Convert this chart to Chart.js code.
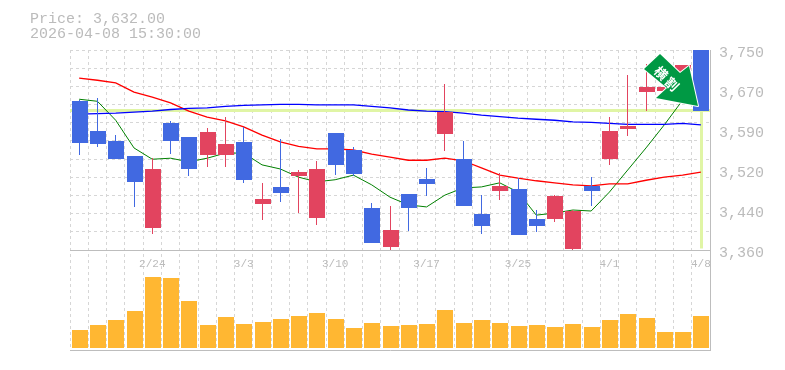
<!DOCTYPE html>
<html><head><meta charset="utf-8">
<style>html,body{margin:0;padding:0;background:#fff}#w{position:relative;width:785px;height:370px}</style>
<script src="https://cdn.jsdelivr.net/npm/chart.js@4/dist/chart.umd.min.js"></script>
</head><body><div id="w"><canvas id="c" width="785" height="370"></canvas></div>
<script>
const categories=['2/17','2/18','2/19','2/20','2/24','2/25','2/26','2/27','3/2','3/3','3/4','3/5','3/6','3/9','3/10','3/11','3/12','3/13','3/16','3/17','3/18','3/19','3/23','3/24','3/25','3/26','3/27','3/30','3/31','4/1','4/2','4/3','4/6','4/7','4/8'];
const shownDates=['2/24','3/3','3/10','3/17','3/25','4/1','4/8'];
const opens=[3651,3592,3572,3543,3403,3608,3580,3545,3545,3571,3450,3483,3504,3422,3588,3555,3442,3366,3469,3498,3586,3537,3430,3475,3479,3420,3420,3362,3485,3537,3596,3668,3670,3692,3765];
const closes=[3569,3567,3537,3493,3518,3572,3518,3590,3567,3496,3459,3471,3512,3518,3526,3508,3374,3399,3442,3489,3629,3446,3407,3485,3389,3407,3465,3436,3475,3592,3602,3678,3678,3721,3632];
const highs=[3652,3656,3584,3543,3539,3611,3580,3598,3619,3600,3491,3576,3516,3533,3588,3561,3452,3446,3469,3520,3684,3572,3467,3510,3500,3438,3467,3438,3502,3619,3701,3723,3691,3721,3770];
const lows=[3545,3561,3537,3444,3391,3547,3504,3522,3522,3491,3418,3454,3432,3409,3506,3504,3374,3358,3397,3465,3553,3446,3391,3457,3389,3395,3415,3360,3446,3526,3582,3631,3662,3682,3632];
const maShort=[3654,3650,3613,3559,3537,3539,3532,3539,3549,3549,3526,3518,3502,3493,3497,3506,3487,3463,3448,3444,3467,3481,3483,3491,3473,3428,3432,3438,3436,3473,3516,3559,3604,3652,3682];
const maMid=[3695,3691,3686,3668,3658,3647,3631,3619,3612,3600,3584,3571,3562,3557,3557,3555,3547,3541,3535,3535,3539,3534,3520,3506,3500,3495,3491,3487,3485,3489,3489,3496,3502,3506,3512];
const maLong=[3625,3626,3627,3629,3631,3634,3636,3637,3640,3642,3643,3644,3644,3643,3643,3643,3640,3637,3633,3631,3630,3627,3623,3620,3617,3615,3613,3610,3609,3607,3605,3605,3605,3607,3604];
const volumes=[180,230,280,370,710,700,470,230,310,240,260,290,320,350,290,200,250,220,230,240,380,250,280,250,220,230,210,240,210,280,340,300,160,160,320];
const currentPrice=3632;
const priceText='Price: 3,632.00';
const dateText='2026-04-08 15:30:00';
const badgeText=['横','割'];
const gridValues=[3750,3714.5,3679.1,3643.6,3608.2,3572.7,3537.3,3501.8,3466.4,3430.9,3395.5,3360];
const tickValues=[3750,3672,3594,3516,3438,3360];
const tickLabels=['3,750','3,670','3,590','3,520','3,440','3,360'];

const MONO='"Liberation Mono",monospace', GRAY='#bbbbbb', GRID='#d6d6d6', AXIS='#bdbdbd';
const BLUE='#4169e1', RED='#e2445f', LIME='#e0f5a5';
const isUp=(i)=>closes[i]>opens[i];
const candleColor=categories.map((_,i)=>isUp(i)?RED:BLUE);

const overlay={id:'overlay',
 beforeDatasetsDraw(ch){
  const c=ch.ctx,y=ch.scales.y.getPixelForValue(currentPrice),a=ch.chartArea,xl=ch.scales.x.getPixelForValue(categories.length-1);
  c.save();c.fillStyle=LIME;c.fillRect(a.left,Math.round(y)-2,a.width,3);
  c.fillRect(Math.floor(xl),Math.round(y)-2,3,ch.scales.y.bottom-y);c.restore();
  // snap bars to whole pixels so their edges stay crisp
  ch.data.datasets.forEach((d,di)=>{if(d.type!=='bar')return;
   ch.getDatasetMeta(di).data.forEach((el,i)=>{
    const cx=ch.scales.x.getPixelForValue(i);
    el.x=Math.floor(cx+1)-(d.label==='Wick'?0.5:0);
    el.y=Math.round(el.y);el.base=Math.round(el.base);});});
 },
 afterDatasetsDraw(ch){const c=ch.ctx;
  c.save();c.beginPath();
  const pts=[[644,69],[660,54],[680,73],[689,66],[698,106],[656,98],[667,88]];
  pts.forEach((p,i)=>i?c.lineTo(p[0],p[1]):c.moveTo(p[0],p[1]));c.closePath();
  c.lineJoin='round';c.lineWidth=2;c.strokeStyle='#fff';c.stroke();c.fillStyle='#009944';c.fill();
  c.fillStyle='#fff';c.font='bold 13px "Noto Sans CJK JP"';c.textAlign='center';c.textBaseline='middle';
  [[661,73],[672,84]].forEach((p,i)=>{c.save();c.translate(p[0],p[1]);c.rotate(Math.PI/4);c.fillText(badgeText[i],0,0);c.restore();});
  c.restore();
  c.save();c.font='15px '+MONO;c.fillStyle=GRAY;c.textBaseline='alphabetic';c.textAlign='left';
  c.fillText(priceText,30,23);c.fillText(dateText,30,38);c.restore();}
};

new Chart(document.getElementById('c'),{
 data:{labels:categories,datasets:[
  {type:'bar',label:'Wick',data:categories.map((_,i)=>[lows[i],highs[i]]),backgroundColor:candleColor,barThickness:1,inflateAmount:0,grouped:false,order:2,yAxisID:'y'},
  {type:'bar',label:'Body',data:categories.map((_,i)=>[opens[i],closes[i]]),backgroundColor:candleColor,barThickness:16,inflateAmount:0,grouped:false,order:1,yAxisID:'y'},
  {type:'line',label:'MA short',data:maShort,borderColor:'#008000',borderWidth:1,pointRadius:0,order:5,yAxisID:'y'},
  {type:'line',label:'MA mid',data:maMid,borderColor:'#ff0000',borderWidth:1.3,pointRadius:0,order:4,yAxisID:'y'},
  {type:'line',label:'MA long',data:maLong,borderColor:'#0000ff',borderWidth:1.3,pointRadius:0,order:3,yAxisID:'y'},
  {type:'bar',label:'Volume',data:volumes,backgroundColor:'#ffb732',barThickness:16,inflateAmount:0,grouped:false,order:6,yAxisID:'v'}
 ]},
 options:{responsive:false,animation:false,
  layout:{padding:{left:70,top:50,right:0,bottom:20}},
  plugins:{legend:{display:false},tooltip:{enabled:false}},
  scales:{
   x:{type:'category',position:{y:3360},offset:true,
      grid:{color:GRID,lineWidth:1,tickLength:0,drawTicks:false,offset:true},
      border:{color:AXIS,dash:[3,3],width:1},
      ticks:{autoSkip:false,maxRotation:0,padding:7,color:GRAY,font:{family:MONO,size:11},
        callback(v){const l=categories[v];return shownDates.includes(l)?l:'';}}},
   x2:{type:'category',labels:categories,position:{v:-20},offset:true,grid:{display:false},
      border:{color:AXIS,width:1},ticks:{display:false}},
   y:{type:'linear',position:'right',stack:'panes',stackWeight:2,min:3360,max:3750,
      afterBuildTicks(s){s.ticks=[...new Set([...gridValues,...tickValues])].sort((a,b)=>a-b).map(value=>({value}));},
      afterFit(s){s.width=75;},
      grid:{drawTicks:false,tickLength:0,color(ctx){return gridValues.includes(ctx.tick.value)?GRID:'rgba(0,0,0,0)';}},
      border:{color:AXIS,width:1,dash:[3,3]},
      ticks:{padding:9,labelOffset:3,color:GRAY,font:{family:MONO,size:15},autoSkip:false,
        callback(v){const i=tickValues.indexOf(v);return i<0?'':tickLabels[i];}}},
   v:{type:'linear',position:'right',stack:'panes',stackWeight:1,min:-20,max:980,
      afterFit(s){s.width=75;},grid:{display:false},border:{color:AXIS,width:1},ticks:{display:false}}
  }},
 plugins:[overlay]
});
</script></body></html>
